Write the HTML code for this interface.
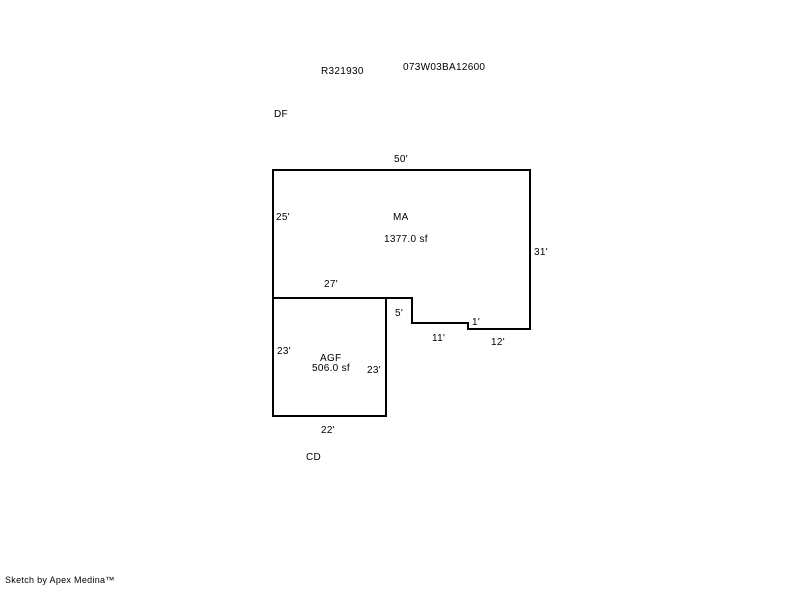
<!DOCTYPE html>
<html><head><style>
body{margin:0;width:800px;height:587px;background:#fff;overflow:hidden}
svg text{font-family:"Liberation Sans",sans-serif;font-size:10px;fill:#000;letter-spacing:0.3px}
</style></head><body>
<svg width="800" height="587" xmlns="http://www.w3.org/2000/svg">
<g fill="none" stroke="#000" stroke-width="2">
<path d="M273,298 L273,170 L530,170 L530,329 L468,329 L468,323 L412,323 L412,298 L386,298"/>
<rect x="273" y="298" width="113" height="118"/>
</g>
<text x="321" y="74">R321930</text>
<text x="403" y="70">073W03BA12600</text>
<text x="274" y="117">DF</text>
<text x="394" y="162">50'</text>
<text x="276" y="220">25'</text>
<text x="393" y="220">MA</text>
<text x="384" y="242">1377.0 sf</text>
<text x="534" y="255">31'</text>
<text x="324" y="287">27'</text>
<text x="395" y="316">5'</text>
<text x="472" y="325">1'</text>
<text x="432" y="341">11'</text>
<text x="491" y="345">12'</text>
<text x="277" y="354">23'</text>
<text x="320" y="361">AGF</text>
<text x="312" y="371">506.0 sf</text>
<text x="367" y="373">23'</text>
<text x="321" y="433">22'</text>
<text x="306" y="460">CD</text>
<text x="5" y="583" style="font-size:9px">Sketch by Apex Medina™</text>
</svg>
</body></html>
